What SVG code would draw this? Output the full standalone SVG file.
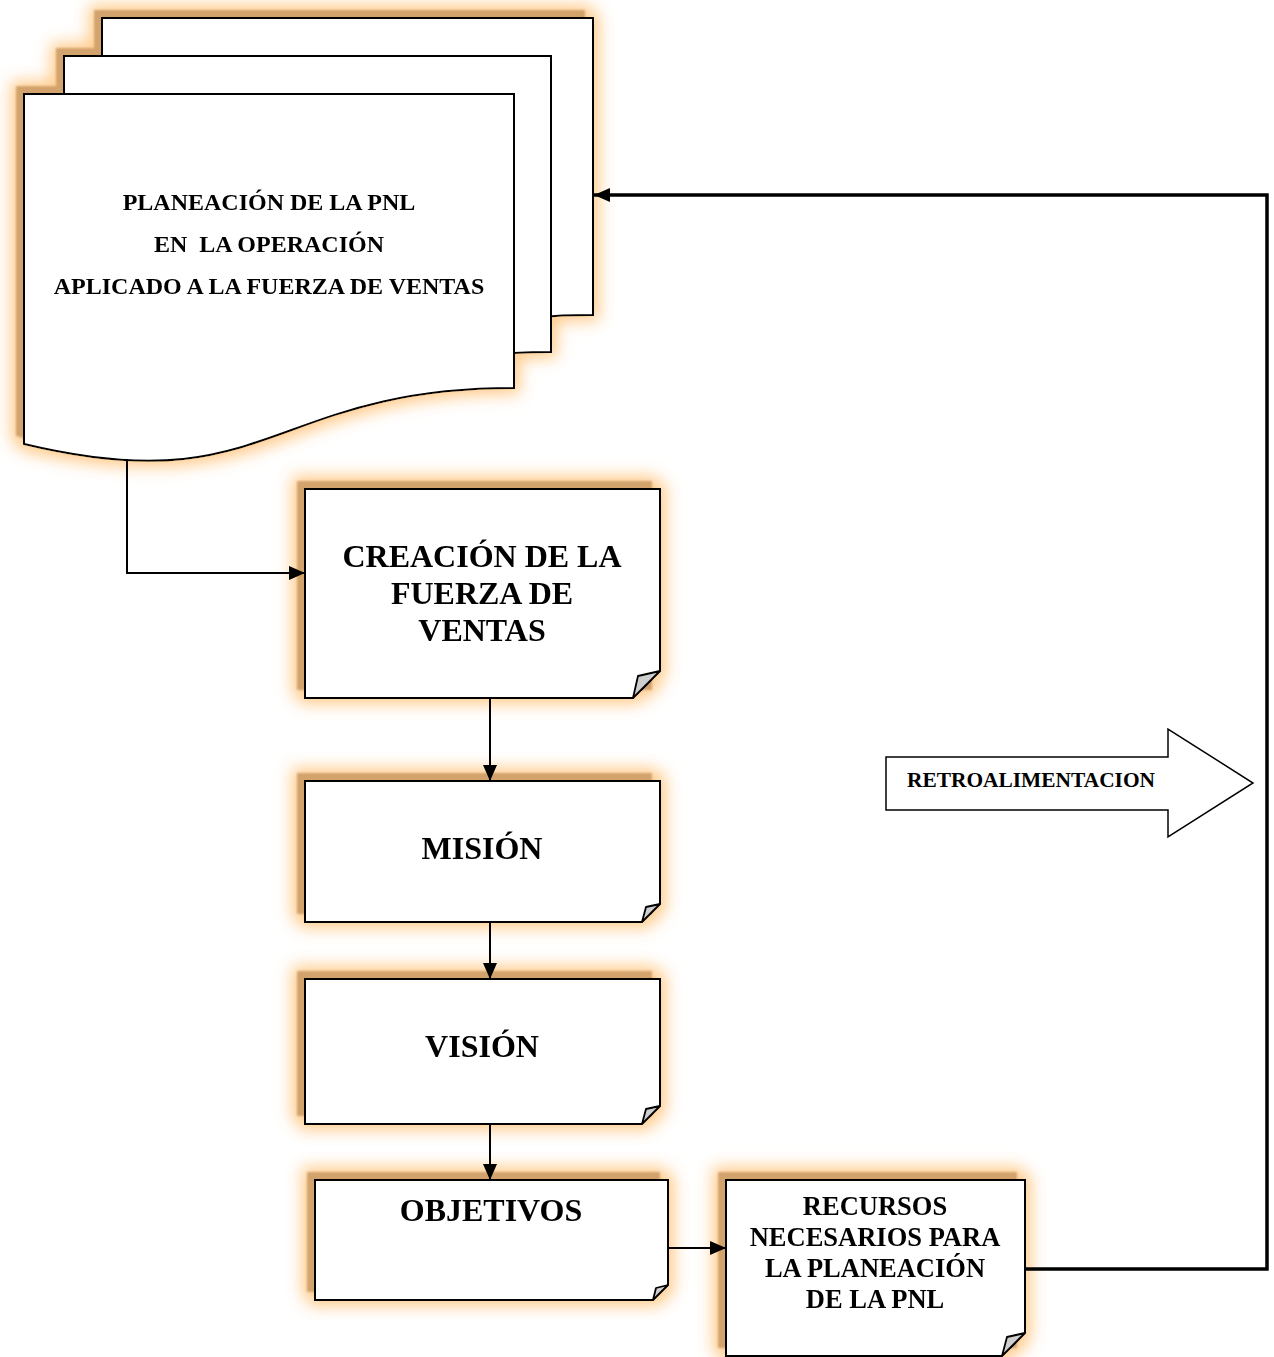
<svg xmlns="http://www.w3.org/2000/svg" width="1274" height="1357" viewBox="0 0 1274 1357">
<defs>
<style>
.pg{fill:#fff;stroke:#000;stroke-width:2}
.sh{fill:#D2A36C;filter:url(#soft)}
.fold{fill:#CFCFCF;stroke:#000;stroke-width:1.8;stroke-linejoin:round}
.t{font-family:"Liberation Serif","Times New Roman",serif;font-weight:bold;fill:#000;text-anchor:middle}
.con{fill:none;stroke:#000;stroke-width:2}
.fb{fill:none;stroke:#000;stroke-width:3.5}
</style>
<filter id="glow" x="-15%" y="-15%" width="130%" height="130%">
<feMorphology operator="dilate" radius="5" in="SourceAlpha" result="d"/>
<feGaussianBlur in="d" stdDeviation="8" result="b"/>
<feFlood flood-color="#FFC885" flood-opacity="0.95"/>
<feComposite in2="b" operator="in" result="g"/>
<feMerge><feMergeNode in="g"/><feMergeNode in="SourceGraphic"/></feMerge>
</filter>
<filter id="soft" x="-5%" y="-5%" width="110%" height="110%">
<feGaussianBlur stdDeviation="1"/>
</filter>
<marker id="ah" viewBox="0 0 16 14" markerUnits="userSpaceOnUse" markerWidth="16" markerHeight="14" refX="16" refY="7" orient="auto" overflow="visible">
<path d="M0,0 L16,7 L0,14 Z" fill="#000"/>
</marker>
</defs>
<rect width="1274" height="1357" fill="#fff"/>

<g id="node-planeacion" filter="url(#glow)">
<path class="sh" d="M94,10 H585 V307 C338,307 338,422 94,363 Z"/>
<path class="sh" d="M56,48 H543 V344 C299,344 299,459 56,400 Z"/>
<path class="sh" d="M16,86 H506 V380 C261,380 261,495 16,436 Z"/>
<path class="pg" d="M102,18 H593 V315 C347,315 347,430 102,371 Z"/>
<path class="pg" d="M64,56 H551 V352 C307,352 307,467 64,408 Z"/>
<path class="pg" d="M24,94 H514 V388 C269,388 269,503 24,444 Z"/>
<text class="t" x="269" y="210" font-size="24">PLANEACIÓN DE LA PNL</text>
<text class="t" x="269" y="252" font-size="24" style="white-space:pre">EN  LA OPERACIÓN</text>
<text class="t" x="269" y="294" font-size="24">APLICADO A LA FUERZA DE VENTAS</text>
</g>

<g id="node-creacion" filter="url(#glow)">
<rect class="sh" x="297" y="481" width="355" height="209"/>
<path class="pg" d="M305,489 H660 V671 L633,698 H305 Z"/>
<path class="fold" d="M633,698 L638,676 L660,671 Z"/>
<text class="t" x="482" y="567" font-size="32">CREACIÓN DE LA</text>
<text class="t" x="482" y="604" font-size="32">FUERZA DE</text>
<text class="t" x="482" y="641" font-size="32">VENTAS</text>
</g>

<g id="node-mision" filter="url(#glow)">
<rect class="sh" x="297" y="773" width="355" height="141"/>
<path class="pg" d="M305,781 H660 V904 L642,922 H305 Z"/>
<path class="fold" d="M642,922 L646,907 L660,904 Z"/>
<text class="t" x="482" y="859" font-size="32">MISIÓN</text>
</g>

<g id="node-vision" filter="url(#glow)">
<rect class="sh" x="297" y="971" width="355" height="145"/>
<path class="pg" d="M305,979 H660 V1106 L642,1124 H305 Z"/>
<path class="fold" d="M642,1124 L646,1109 L660,1106 Z"/>
<text class="t" x="482" y="1057" font-size="32">VISIÓN</text>
</g>

<g id="node-objetivos" filter="url(#glow)">
<rect class="sh" x="307" y="1172" width="353" height="120"/>
<path class="pg" d="M315,1180 H668 V1285 L653,1300 H315 Z"/>
<path class="fold" d="M653,1300 L656,1288 L668,1285 Z"/>
<text class="t" x="491" y="1221" font-size="32">OBJETIVOS</text>
</g>

<g id="node-recursos" filter="url(#glow)">
<rect class="sh" x="718" y="1172" width="299" height="176"/>
<path class="pg" d="M726,1180 H1025 V1333 L1002,1356 H726 Z"/>
<path class="fold" d="M1002,1356 L1007,1337 L1025,1333 Z"/>
<text class="t" x="875" y="1215" font-size="26.5">RECURSOS</text>
<text class="t" x="875" y="1246" font-size="26.5">NECESARIOS PARA</text>
<text class="t" x="875" y="1277" font-size="26.5">LA PLANEACIÓN</text>
<text class="t" x="875" y="1308" font-size="26.5">DE LA PNL</text>
</g>

<g id="node-retro">
<path d="M886,757 H1168 V729 L1253,783 L1168,837 V810 H886 Z" fill="#fff" stroke="#000" stroke-width="1.5"/>
<text class="t" x="1031" y="787" font-size="21.4">RETROALIMENTACION</text>
</g>

<g id="connectors">
<path class="con" d="M127,459 V573 H305" marker-end="url(#ah)"/>
<path class="con" d="M490,699 V781" marker-end="url(#ah)"/>
<path class="con" d="M490,923 V979" marker-end="url(#ah)"/>
<path class="con" d="M490,1125 V1180" marker-end="url(#ah)"/>
<path class="con" d="M669,1248 H726" marker-end="url(#ah)"/>
<path class="fb" d="M1026,1269 H1267 V195 H594" marker-end="url(#ah)"/>
</g>
</svg>
